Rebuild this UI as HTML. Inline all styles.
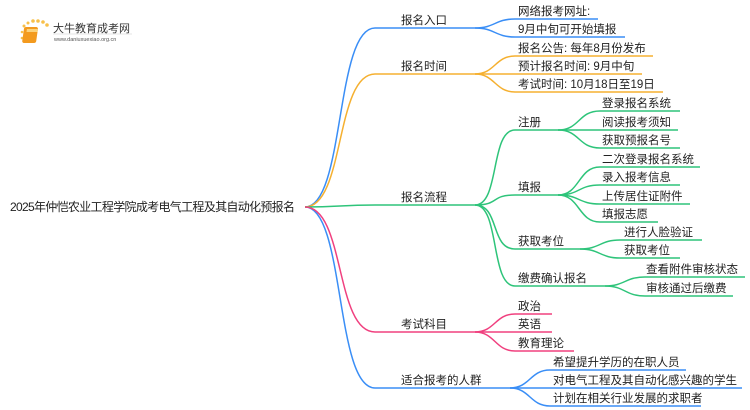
<!DOCTYPE html>
<html><head><meta charset="utf-8"><style>
html,body{margin:0;padding:0;background:#fff;width:750px;height:410px;overflow:hidden}
text{font-family:"Liberation Sans","Noto Sans CJK SC",sans-serif;font-size:11.5px;fill:#222}
path,line{fill:none;stroke-width:1.5}
</style></head><body>
<svg width="750" height="410" viewBox="0 0 750 410" xmlns="http://www.w3.org/2000/svg">
<!-- logo -->
<g>
<circle cx="24" cy="26" r="1.5" fill="#f7c04a"/><circle cx="28" cy="23" r="1.5" fill="#f7c04a"/><circle cx="33" cy="21" r="1.8" fill="#f7c04a"/><circle cx="38" cy="21" r="1.8" fill="#f7c04a"/><circle cx="43" cy="22" r="1.8" fill="#f7c04a"/><circle cx="47" cy="25" r="1.8" fill="#f7c04a"/><circle cx="22" cy="32" r="1.3" fill="#f7c04a"/><circle cx="22" cy="38" r="1.3" fill="#f7c04a"/>
<rect x="28" y="27" width="14" height="16" rx="2" fill="#f39a1e" transform="skewX(-8)"/>
<rect x="31" y="29" width="11" height="3" fill="#fbd27a" transform="skewX(-8)"/>
<text x="53" y="32" style="font-size:11px;fill:#333">大牛教育成考网</text>
<line x1="53" y1="34" x2="132" y2="34" stroke="#ccc" style="stroke-width:0.6"/>
<text x="54" y="41" style="font-size:5.5px;fill:#555">www.daniuxuexiao.org.cn</text>
</g>
<!-- root -->
<text x="10" y="211" textLength="285" style="font-size:12px">2025年仲恺农业工程学院成考电气工程及其自动化预报名</text>
<!-- level1 -->
<g stroke="#3a8ef6"><path d="M305,207 C345,207 335,28 375,28 L475,28"/><path d="M475,28 C495,28 495,19 515,19 L598,19"/><path d="M475,28 C495,28 495,37 515,37 L625,37"/>
<path d="M305,207 C345,207 335,388 375,388 L510,388"/><path d="M510,388 C530,388 530,370 550,370 L686,370"/><path d="M510,388 C530,388 530,388 550,388 L742,388"/><path d="M510,388 C530,388 530,406 550,406 L701,406"/></g>
<g stroke="#f5b030"><path d="M305,207 C345,207 335,74 375,74 L475,74"/><path d="M475,74 C495,74 495,56 515,56 L653,56"/><path d="M475,74 L642,74"/><path d="M475,74 C495,74 495,92 515,92 L663,92"/></g>
<g stroke="#2ec47a"><path d="M305,207 C340,207 340,205 375,205 L475,205" /><path d="M305,207 L475,207" style="stroke-width:0"/>
<path d="M475,205 C500,205 490,130 515,130 L558,130"/><path d="M475,205 C500,205 490,195 515,195 L558,195"/><path d="M475,205 C500,205 490,249 515,249 L580,249"/><path d="M475,205 C500,205 490,286 515,286 L605,286"/>
<path d="M558,130 C580,130 578,111 600,111 L680,111"/><path d="M558,130 L678,130"/><path d="M558,130 C580,130 578,148 600,148 L680,148"/>
<path d="M558,195 C580,195 578,167 600,167 L700,167"/><path d="M558,195 C580,195 578,185 600,185 L680,185"/><path d="M558,195 C580,195 578,204 600,204 L690,204"/><path d="M558,195 C580,195 578,222 600,222 L658,222"/>
<path d="M580,249 C600,249 600,240 620,240 L702,240"/><path d="M580,249 C600,249 600,258 620,258 L680,258"/>
<path d="M605,286 C625,286 625,277 645,277 L745,277"/><path d="M605,286 C625,286 625,296 645,296 L733,296"/></g>
<g stroke="#f0407f"><path d="M305,207 C345,207 335,332 375,332 L475,332"/><path d="M475,332 C495,332 495,314 515,314 L552,314"/><path d="M475,332 L552,332"/><path d="M475,332 C495,332 495,351 515,351 L574,351"/></g>
<!-- labels -->
<text x="401" y="24">报名入口</text><text x="518" y="15">网络报考网址:</text><text x="518" y="33">9月中旬可开始填报</text>
<text x="401" y="70">报名时间</text><text x="518" y="52">报名公告: 每年8月份发布</text><text x="518" y="70">预计报名时间: 9月中旬</text><text x="518" y="88">考试时间: 10月18日至19日</text>
<text x="401" y="201">报名流程</text>
<text x="518" y="126">注册</text><text x="602" y="107">登录报名系统</text><text x="602" y="126">阅读报考须知</text><text x="602" y="144">获取预报名号</text>
<text x="518" y="191">填报</text><text x="602" y="163">二次登录报名系统</text><text x="602" y="181">录入报考信息</text><text x="602" y="200">上传居住证附件</text><text x="602" y="218">填报志愿</text>
<text x="518" y="245">获取考位</text><text x="624" y="236">进行人脸验证</text><text x="624" y="254">获取考位</text>
<text x="518" y="282">缴费确认报名</text><text x="646" y="273">查看附件审核状态</text><text x="646" y="292">审核通过后缴费</text>
<text x="401" y="328">考试科目</text><text x="518" y="310">政治</text><text x="518" y="328">英语</text><text x="518" y="347">教育理论</text>
<text x="401" y="384">适合报考的人群</text><text x="553" y="366">希望提升学历的在职人员</text><text x="553" y="384">对电气工程及其自动化感兴趣的学生</text><text x="553" y="402">计划在相关行业发展的求职者</text>
</svg>
</body></html>
